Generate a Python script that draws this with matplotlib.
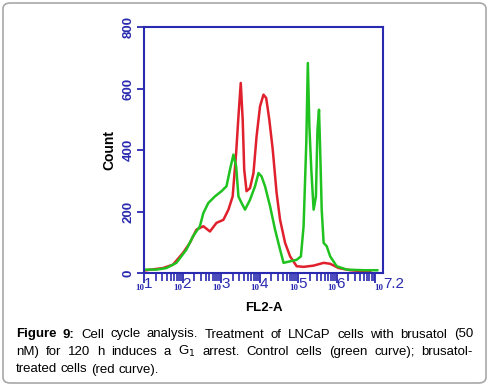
import numpy as np
import matplotlib.pyplot as plt
from matplotlib.patches import FancyBboxPatch
from matplotlib.ticker import LogLocator

# FL2-A channel given as log10 value, counts
green_log = [1.00, 1.32, 1.58, 1.84, 2.10, 2.27, 2.45, 2.54, 2.67, 2.84, 3.01, 3.14,
             3.23, 3.32, 3.39, 3.45, 3.53, 3.62, 3.75, 3.88, 3.97, 4.05, 4.14, 4.27,
             4.40, 4.53, 4.62, 4.79, 4.96, 5.07, 5.14, 5.21, 5.25, 5.29, 5.34, 5.40,
             5.46, 5.50, 5.54, 5.57, 5.61, 5.66, 5.74, 5.83, 6.00, 6.26, 6.70, 7.05]
green_count = [11, 11, 16, 33, 76, 119, 152, 195, 228, 249, 266, 282,
               336, 385, 347, 249, 228, 206, 238, 282, 325, 314, 282, 217,
               141, 76, 33, 38, 43, 54, 152, 423, 683, 477, 336, 206,
               249, 466, 531, 401, 206, 98, 87, 54, 22, 11, 9, 9]

red_log = [1.00, 1.49, 1.75, 2.01, 2.19, 2.36, 2.54, 2.71, 2.88, 3.06, 3.19, 3.30,
           3.39, 3.45, 3.51, 3.56, 3.60, 3.66, 3.75, 3.84, 3.92, 4.01, 4.10, 4.17,
           4.25, 4.34, 4.44, 4.53, 4.66, 4.79, 4.96, 5.14, 5.40, 5.66, 5.83, 6.05,
           6.35, 6.87]
red_count = [8, 16, 27, 65, 98, 141, 152, 135, 163, 173, 206, 249,
             390, 509, 618, 499, 336, 266, 276, 325, 444, 542, 580, 569,
             499, 401, 260, 173, 98, 54, 22, 20, 24, 33, 30, 16,
             9, 4]

decades = [1, 2, 3, 4, 5, 6]
y_ticks = [0, 200, 400, 600, 800]

caption_lines = [
    [("Figure", True), ("9:", True), ("Cell", False), ("cycle", False), ("analysis.", False),
     ("Treatment", False), ("of", False), ("LNCaP", False), ("cells", False), ("with", False),
     ("brusatol", False), ("(50", False)],
    [("nM)", False), ("for", False), ("120", False), ("h", False), ("induces", False), ("a", False),
     ("G$_{1}$", False), ("arrest.", False), ("Control", False), ("cells", False),
     ("(green", False), ("curve);", False), ("brusatol-", False)],
    [("treated", False), ("cells", False), ("(red", False), ("curve).", False)],
]

blue = '#2a2ab0'
green = '#1fc21f'
red = '#e0202c'
cap_size = 9.5

fig = plt.figure(figsize=(4.88, 3.89), dpi=100)
W, H = 488, 389

# outer rounded frame
frame = FancyBboxPatch((3 / W, 1 - 383 / H), 483 / W, 380 / H,
                       boxstyle='round,pad=0,rounding_size=0.015',
                       transform=fig.transFigure, fill=False,
                       edgecolor='#a8a8a8', linewidth=1.2)
fig.patches.append(frame)

ax = fig.add_axes([144 / W, 1 - 273 / H, (383 - 144) / W, (273 - 27) / H])
ax.plot(10 ** np.array(red_log), red_count, color=red, lw=1.8)
ax.plot(10 ** np.array(green_log), green_count, color=green, lw=1.8)

ax.set_xscale('log')
ax.set_xlim(10 ** 1, 10 ** 7.2)
ax.set_ylim(0, 800)
ax.xaxis.set_major_locator(LogLocator(base=10, numticks=20))
ax.xaxis.set_minor_locator(LogLocator(base=10, subs=np.arange(2, 10), numticks=100))
for s in ax.spines.values():
    s.set_color(blue)
    s.set_linewidth(1.5)

ax.set_yticks(y_ticks)
ax.set_yticklabels([str(v) for v in y_ticks], rotation=90, va='center',
                   color=blue, fontsize=9.5, fontweight='bold', family='Liberation Sans')
ax.tick_params(axis='y', direction='out', length=5, width=1.3, color=blue, pad=2)
ax.tick_params(axis='x', which='both', direction='out', color=blue, labelbottom=False)
ax.tick_params(axis='x', which='major', length=7, width=1.3)
ax.tick_params(axis='x', which='minor', length=6, width=1.2)

trans = ax.get_xaxis_transform()
for d in decades:
    ax.text(10 ** d, -0.062, '10', transform=trans, ha='right', va='center',
            color=blue, fontsize=6.5, fontweight='bold', family='Liberation Serif')
    ax.text(10 ** d, -0.045, str(d), transform=trans, ha='left', va='center',
            color=blue, fontsize=11, family='Liberation Sans')
ax.text(10 ** 7.2, -0.062, '10', transform=trans, ha='right', va='center',
        color=blue, fontsize=6.5, fontweight='bold', family='Liberation Serif')
ax.text(10 ** 7.2, -0.045, '7.2', transform=trans, ha='left', va='center',
        color=blue, fontsize=11, family='Liberation Sans', clip_on=False)

ax.set_xlabel('FL2-A', fontsize=9.5, fontweight='bold', family='Liberation Sans', labelpad=14)
ax.set_ylabel('Count', fontsize=10, fontweight='bold', family='Liberation Sans', labelpad=4)

# justified caption
renderer = fig.canvas.get_renderer()
x0, x1 = 16, 473
baselines = [337.5, 355, 372.5]
probe = fig.text(0, 0, 'a a', fontsize=cap_size, family='Liberation Sans')
probe_a = fig.text(0, 0, 'aa', fontsize=cap_size, family='Liberation Sans')
space_w = probe.get_window_extent(renderer).width - probe_a.get_window_extent(renderer).width
probe.remove()
probe_a.remove()
for li, (words, yb) in enumerate(zip(caption_lines, baselines)):
    texts = []
    for w, bold in words:
        t = fig.text(0, 1 - yb / H, w, fontsize=cap_size, family='Liberation Sans',
                     fontweight='bold' if bold else 'normal', va='baseline', ha='left')
        texts.append(t)
    widths = [t.get_window_extent(renderer).width for t in texts]
    if li < len(caption_lines) - 1:
        gap = (x1 - x0 - sum(widths)) / (len(texts) - 1)
    else:
        gap = space_w
    x = x0
    for t, wd in zip(texts, widths):
        t.set_x(x / W)
        x += wd + gap

fig.savefig('out.png', dpi=100)
